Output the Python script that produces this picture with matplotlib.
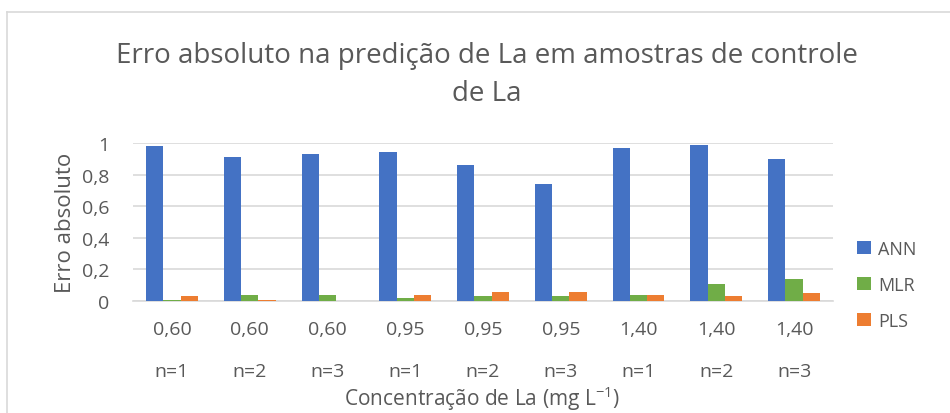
import numpy as np
import matplotlib
matplotlib.use("Agg")
import matplotlib.pyplot as plt
from matplotlib.lines import Line2D
from matplotlib.patches import Patch

plt.rcParams['font.family'] = ['Open Sans', 'DejaVu Sans']
plt.rcParams['mathtext.fontset'] = 'custom'
plt.rcParams['mathtext.rm'] = 'Open Sans'
plt.rcParams['mathtext.default'] = 'rm'

# data
concentracoes = ['0,60', '0,60', '0,60', '0,95', '0,95', '0,95', '1,40', '1,40', '1,40']
replicatas = ['n=1', 'n=2', 'n=3', 'n=1', 'n=2', 'n=3', 'n=1', 'n=2', 'n=3']
ann = [0.98, 0.91, 0.93, 0.94, 0.86, 0.74, 0.97, 0.99, 0.90]
mlr = [0.006, 0.04, 0.04, 0.017, 0.03, 0.03, 0.04, 0.11, 0.14]
pls = [0.03, 0.005, 0.0, 0.04, 0.06, 0.06, 0.04, 0.03, 0.05]

series = ['ANN', 'MLR', 'PLS']
cores = ['#4472C4', '#70AD47', '#ED7D31']
cinza = '#595959'

W, H = 950, 414
fig = plt.figure(figsize=(9.5, 4.14), dpi=100)
ax = fig.add_axes([133 / W, (H - 302) / H, 700 / W, 158 / H])

x = np.arange(len(ann))
w = 1 / 4.5
for k, (vals, cor) in enumerate(zip([ann, mlr, pls], cores)):
    ax.bar(x + (k - 1) * w, vals, width=w, color=cor, zorder=3)

ax.set_xlim(-0.5, len(ann) - 0.5)
ax.set_ylim(0, 1)
ax.set_yticks([0, 0.2, 0.4, 0.6, 0.8, 1.0])
ax.set_yticklabels(['0', '0,2', '0,4', '0,6', '0,8', '1'])
ax.yaxis.grid(True, color='#D9D9D9', linewidth=1.2)
ax.set_axisbelow(True)
for s in ['top', 'right', 'left']:
    ax.spines[s].set_visible(False)
ax.spines['bottom'].set_color('#D9D9D9')
ax.spines['bottom'].set_linewidth(1.2)
ax.tick_params(axis='both', length=0, labelsize=14, labelcolor=cinza)
ax.tick_params(axis='y', pad=17)
ax.tick_params(axis='x', pad=14)
ax.set_xticks(x)
ax.set_xticklabels(concentracoes)

# second row of category labels
for xi, r in zip(x, replicatas):
    ax.annotate(r, xy=(xi, 0), xycoords=('data', 'axes fraction'),
                xytext=(0, -70), textcoords='offset pixels',
                ha='center', va='center', fontsize=14, color=cinza)

ax.set_ylabel('Erro absoluto', fontsize=16, color=cinza, labelpad=4)
fig.text(482 / W, 1 - 399 / H, 'Concentração de La (mg L$^{-1}$)',
         ha='center', va='center', fontsize=15, color=cinza)

fig.text(487 / W, 1 - 75 / H, 'Erro absoluto na predição de La em amostras de controle\nde La',
         ha='center', va='center', fontsize=20, color=cinza, linespacing=1.5)

handles = [Patch(facecolor=c, edgecolor='none') for c in cores]
fig.legend(handles, series, loc='center left', bbox_to_anchor=(841 / W, 1 - 286 / H),
           frameon=False, fontsize=13, labelcolor=cinza, handlelength=0.75,
           handleheight=0.75, handletextpad=0.4, labelspacing=1.0)

# chart frame
fig.add_artist(Line2D([7 / W, 1], [1 - 13 / H, 1 - 13 / H], color='#D9D9D9', lw=1.2))
fig.add_artist(Line2D([7 / W, 7 / W], [0, 1 - 13 / H], color='#D9D9D9', lw=1.2))

fig.savefig('out.png', dpi=100)
